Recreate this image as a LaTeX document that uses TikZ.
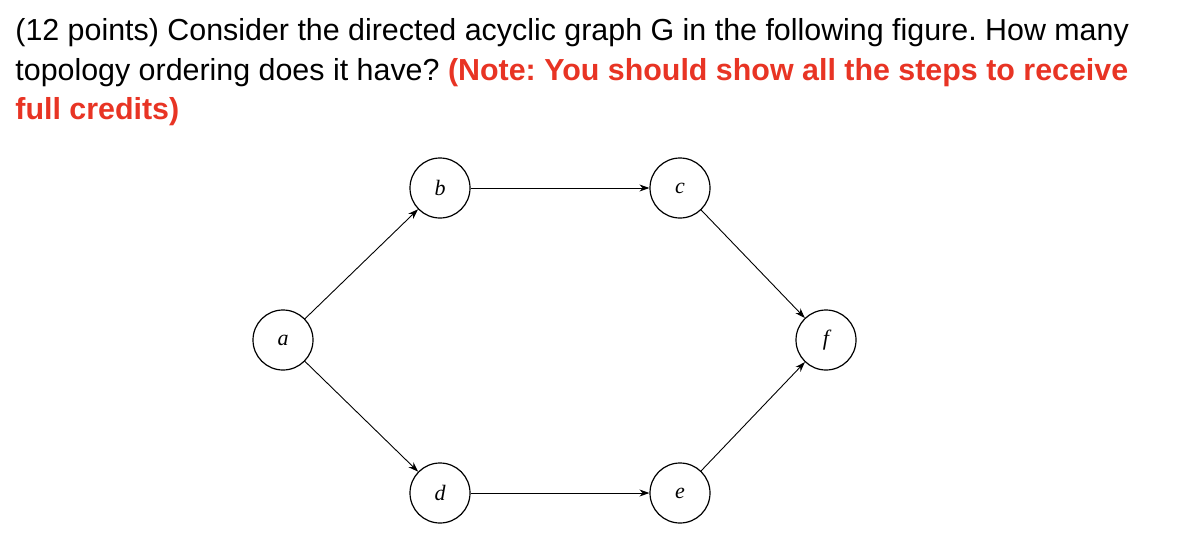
\documentclass[tikz,border=0pt]{standalone}
\usepackage{fontspec}
\setmainfont{Liberation Sans}
\newfontfamily\serifit{Liberation Serif}
\usetikzlibrary{arrows.meta}
\definecolor{noteRed}{RGB}{232,52,36}
\begin{document}
\frenchspacing
\begin{tikzpicture}[x=0.5pt,y=-0.5pt,
  vtx/.style={circle,draw,line width=0.6pt,minimum size=30pt,inner sep=0pt,font=\serifit\itshape\fontsize{11}{13}\selectfont},
  edge/.style={line width=0.45pt,-{Stealth[length=5pt,width=3.5pt]}},
  txt/.style={anchor=base west,inner sep=0pt,font=\fontsize{15.2}{18}\selectfont}]
\useasboundingbox (0,0) rectangle (1198,552);
\node[txt] (l1) at (15,40) {(12 points) Consider the directed acyclic graph G in the following figure. How many};
\node[txt] (l2) at (15,80) {topology ordering does it have? \textcolor{noteRed}{\textbf{(Note: You should show all the steps to receive}}};
\node[txt,text=noteRed] (l3) at (15,119) {\textbf{full credits)}};
\node[vtx] (a) at (283,340) {a};
\node[vtx] (b) at (440,188) {b};
\node[vtx] (c) at (680,188) {c};
\node[vtx] (f) at (826,340) {f};
\node[vtx] (d) at (440,493) {d};
\node[vtx] (e) at (680,493) {e};
\draw[edge] (a) -- (b);
\draw[edge] (b) -- (c);
\draw[edge] (c) -- (f);
\draw[edge] (a) -- (d);
\draw[edge] (d) -- (e);
\draw[edge] (e) -- (f);
\end{tikzpicture}
\end{document}
